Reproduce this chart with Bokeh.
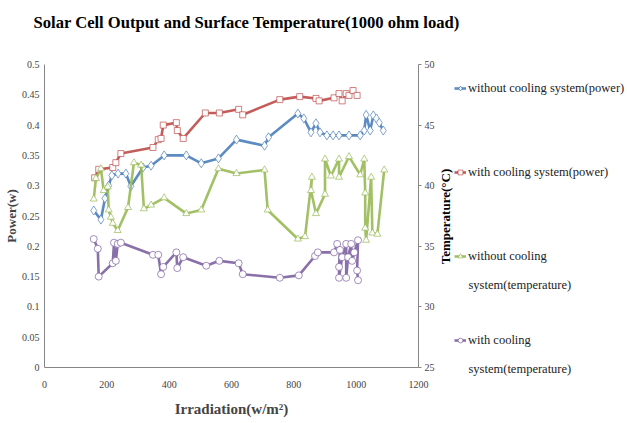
import math
from bokeh.plotting import figure
from bokeh.layouts import column, row
from bokeh.models import Range1d, LinearAxis, FixedTicker, Legend, LegendItem, Label
from bokeh.embed import file_html
from bokeh.resources import INLINE

# ---- data ----
title_text = "Solar Cell Output and Surface Temperature(1000 ohm load)"

x_ticks = [0, 200, 400, 600, 800, 1000, 1200]
power_ticks = [0, 0.05, 0.1, 0.15, 0.2, 0.25, 0.3, 0.35, 0.4, 0.45, 0.5]
power_tick_labels = ["0", "0.05", "0.1", "0.15", "0.2", "0.25", "0.3", "0.35", "0.4", "0.45", "0.5"]
temp_ticks = [25, 30, 35, 40, 45, 50]

# without cooling system (power)
wo_power_x = [158, 181, 194, 206, 216, 236, 261, 277, 316, 342, 384, 455, 503, 558, 616,
              706, 719, 813, 832, 855, 871, 884, 906, 926, 945, 977, 1013,
              1026, 1032, 1045, 1055, 1065, 1074, 1087]
wo_power_y = [0.259, 0.244, 0.279, 0.300, 0.317, 0.320, 0.320, 0.299, 0.330, 0.333, 0.350, 0.350, 0.337, 0.345, 0.376,
              0.366, 0.380, 0.419, 0.411, 0.388, 0.403, 0.388, 0.383, 0.383, 0.383, 0.383, 0.383,
              0.391, 0.417, 0.391, 0.416, 0.411, 0.404, 0.391]

# with cooling system (power)
w_power_x = [161, 174, 219, 229, 245, 348, 365, 374, 381, 423, 426, 445, 516, 561, 623, 636,
             755, 819, 871, 881, 929, 945, 955, 968, 977, 990, 1003]
w_power_y = [0.313, 0.327, 0.330, 0.338, 0.353, 0.363, 0.376, 0.378, 0.400, 0.404, 0.391, 0.378, 0.420, 0.420, 0.426, 0.417,
             0.442, 0.447, 0.444, 0.440, 0.445, 0.452, 0.440, 0.452, 0.449, 0.457, 0.449]

# without cooling system (temperature)
wo_temp_x = [158, 165, 181, 190, 203, 206, 213, 219, 235, 268, 287, 310, 319, 342, 384,
             455, 503, 558, 616, 706, 716, 813, 836, 858, 855, 871, 900, 900, 919, 945, 945, 977,
             1013, 1026, 1029, 1029, 1032, 1048, 1052, 1068, 1090]
wo_temp_y = [38.9, 40.6, 41.4, 39.6, 39.9, 38.0, 37.4, 36.9, 36.3, 38.2, 41.9, 41.7, 38.1, 38.4, 39.0,
             37.7, 38.0, 41.4, 41.0, 41.3, 38.0, 35.6, 35.8, 40.7, 39.6, 37.7, 39.3, 42.2, 40.8, 42.2, 40.7, 42.4,
             40.9, 42.2, 39.4, 36.5, 35.5, 40.7, 36.1, 36.0, 41.3]

# with cooling system (temperature)
w_temp_x = [158, 171, 174, 219, 223, 229, 235, 245, 348, 365, 374, 381, 423, 426, 445,
            519, 561, 623, 636, 755, 816, 868, 877, 929, 939, 948, 945, 945,
            955, 968, 968, 974, 984, 987, 994, 1006, 1003, 1006]
w_temp_y = [35.6, 34.8, 32.5, 33.6, 35.3, 33.8, 35.2, 35.3, 34.3, 34.3, 32.7, 33.3, 34.5, 33.2, 34.1,
            33.4, 33.8, 33.6, 32.7, 32.4, 32.6, 34.2, 34.5, 34.5, 35.2, 34.7, 33.3, 32.4,
            34.1, 35.2, 32.4, 34.1, 35.2, 33.8, 34.5, 35.5, 33.0, 32.2]

# legend texts (first line beside the marker, optional second line below)
legend_first = ["without cooling system(power)", "with cooling system(power)",
                "without cooling", "with cooling"]
legend_second = ["", "", "system(temperature)", "system(temperature)"]
colors = ["#4a7ebb", "#be4b48", "#98b954", "#7d60a0"]
markers = ["diamond", "square", "triangle", "circle"]
marker_sizes = [9, 6, 7, 7]

FONT = "Liberation Serif"
FW, FH = 374, 303
TITLE_H = 44
TOP_B, BOT_B = 20, 48
ROW_H = TOP_B + FH + BOT_B
SIDE_W = 188


def bare(width, height):
    f = figure(width=width, height=height, output_backend="svg", toolbar_location=None,
               x_axis_type=None, y_axis_type=None, title=None,
               min_border=0, min_border_left=0, min_border_right=0,
               min_border_top=0, min_border_bottom=0)
    f.outline_line_color = None
    return f


# ---- title strip ----
tf = bare(611, TITLE_H)
tf.add_layout(Label(x=33, y=TITLE_H - 22, x_units="screen", y_units="screen", text=title_text,
                    text_font=FONT, text_font_style="bold", text_font_size="16.6px",
                    text_color="#000000", text_baseline="middle", text_align="left"))

# ---- main chart ----
p = figure(frame_width=FW, frame_height=FH, output_backend="svg", toolbar_location=None,
           title=None, x_range=Range1d(0, 1200), y_range=Range1d(0, 0.5),
           min_border_left=36, min_border_right=16,
           min_border_top=TOP_B, min_border_bottom=BOT_B)
p.extra_y_ranges = {"temp": Range1d(25, 50)}
p.outline_line_color = None
p.xgrid.grid_line_color = None
p.ygrid.grid_line_color = None

axis_color = "#868686"

xa = p.xaxis[0]
xa.ticker = FixedTicker(ticks=x_ticks)
xa.axis_label = "Irradiation(w/m\u00b2)"
xa.axis_label_text_font = FONT
xa.axis_label_text_font_style = "bold"
xa.axis_label_text_font_size = "15px"
xa.axis_label_standoff = 10
xa.major_label_text_font = FONT
xa.major_label_text_font_size = "10px"
xa.major_label_standoff = 13
xa.axis_line_color = axis_color
xa.major_tick_line_color = None
xa.major_tick_out = 0
xa.major_tick_in = 0
xa.minor_tick_line_color = None
xa.minor_tick_out = 0

ya = p.yaxis[0]
ya.ticker = FixedTicker(ticks=power_ticks)
ya.major_label_overrides = {t: l for t, l in zip(power_ticks, power_tick_labels)}
ya.axis_label = "Power(w)"
ya.axis_label_text_font = FONT
ya.axis_label_text_font_style = "bold"
ya.axis_label_text_font_size = "13px"
ya.axis_label_text_line_height = 1.0
ya.axis_label_standoff = 0
ya.major_label_text_font = FONT
ya.major_label_text_font_size = "10px"
ya.major_label_standoff = 5
ya.axis_line_color = axis_color
ya.major_tick_line_color = None
ya.major_tick_out = 0
ya.major_tick_in = 0
ya.minor_tick_line_color = None
ya.minor_tick_out = 0

ra = LinearAxis(y_range_name="temp", ticker=FixedTicker(ticks=temp_ticks))
ra.major_label_text_font = FONT
ra.major_label_text_font_size = "10px"
ra.major_label_standoff = 3
ra.axis_line_color = axis_color
ra.major_tick_line_color = axis_color
ra.major_tick_in = 0
ra.major_tick_out = 3
ra.minor_tick_line_color = None
ra.minor_tick_out = 0
p.add_layout(ra, "right")

series = [
    (wo_power_x, wo_power_y, "default"),
    (w_power_x, w_power_y, "default"),
    (wo_temp_x, wo_temp_y, "temp"),
    (w_temp_x, w_temp_y, "temp"),
]
for (xs, ys, rng), col, mk, ms in zip(series, colors, markers, marker_sizes):
    p.line(xs, ys, y_range_name=rng, line_color=col, line_width=2.6, line_alpha=0.9)
    p.scatter(xs, ys, y_range_name=rng, marker=mk, size=ms,
              fill_color="white", line_color=col, line_width=1, line_alpha=0.7)

# ---- side strip: right-axis title and legend ----
sf = bare(SIDE_W, ROW_H)
# ranges chosen so that the series drawn here (for the legend swatches) stay out of view
sf.x_range = Range1d(-2, -1)
sf.y_range = Range1d(-2, -1)

aligned_off = "frame_align" in sf.properties()
if aligned_off:
    sf.frame_align = False
    p.frame_align = False
    tf.frame_align = False
    base = ROW_H + 44        # page y of the side frame's bottom edge
else:
    base = 44 + TOP_B + FH


def yup(page_y):
    return base - page_y


sf.add_layout(Label(x=7.5, y=yup(216), x_units="screen", y_units="screen",
                    text="Temperature(\u00b0C)", angle=math.pi / 2,
                    text_font=FONT, text_font_style="bold", text_font_size="13px",
                    text_color="#000000", text_align="center", text_baseline="middle"))

items = []
for (xs, ys, rng), lab, col, mk, ms in zip(series, legend_first, colors, markers, marker_sizes):
    ln = sf.line(xs, ys, line_color=col, line_width=2.6, line_alpha=0.9)
    sc = sf.scatter(xs, ys, marker=mk, size=ms, fill_color="white", line_color=col,
                    line_width=1, line_alpha=0.7)
    items.append(LegendItem(label=lab, renderers=[ln, sc]))

GH, SP = 20, 64
item1_top_page = 88 - GH / 2
legend_bottom_page = item1_top_page + 4 * GH + 3 * SP
LX = 17
legend = Legend(items=items, location=(LX, yup(legend_bottom_page)))
legend.label_text_font = FONT
legend.label_text_font_size = "12.5px"
legend.label_text_color = "#222222"
legend.glyph_width = 12
legend.glyph_height = GH
legend.spacing = SP
legend.padding = 0
legend.margin = 0
legend.label_standoff = 2
legend.border_line_color = None
legend.background_fill_alpha = 0
sf.add_layout(legend)

for i, txt in enumerate(legend_second):
    if txt:
        first_center_page = 88 + i * (GH + SP)
        sf.add_layout(Label(x=LX + 12 + 2, y=yup(first_center_page + 28),
                            x_units="screen", y_units="screen", text=txt,
                            text_font=FONT, text_font_size="12.5px", text_color="#222222",
                            text_align="left", text_baseline="middle"))

layout = column(tf, row(p, sf, spacing=0), spacing=0)
open("out.html", "w").write(file_html(layout, INLINE))
